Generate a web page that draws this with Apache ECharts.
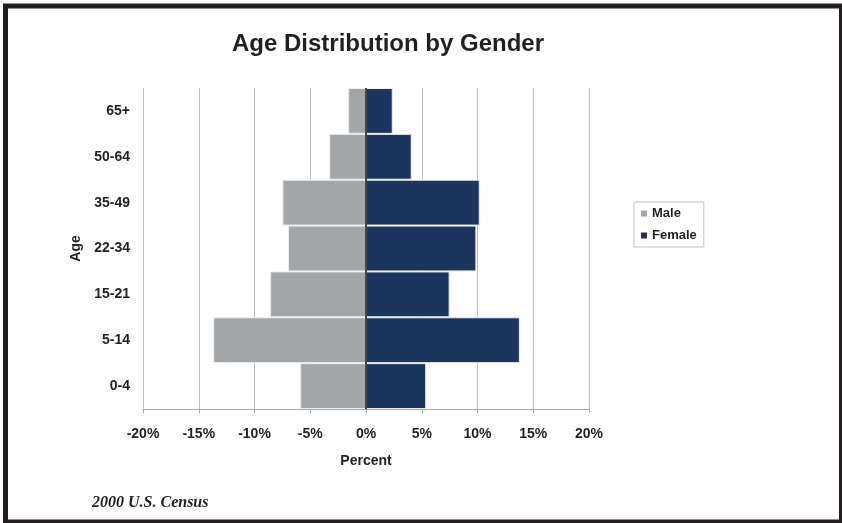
<!DOCTYPE html>
<html>
<head>
<meta charset="utf-8">
<script src="https://cdn.jsdelivr.net/npm/echarts@6/dist/echarts.min.js"></script>
<style>
  html, body { margin: 0; padding: 0; background: #ffffff; }
  #chart { width: 842px; height: 523px; }
</style>
</head>
<body>
<div id="chart"></div>
<script>
// Age groups, bottom to top
const ageGroups = ['0-4', '5-14', '15-21', '22-34', '35-49', '50-64', '65+'];
// Share of population (%); male drawn to the left of zero
const maleValues = [-5.9, -13.7, -8.6, -7.0, -7.5, -3.3, -1.6];
const femaleValues = [5.4, 13.8, 7.5, 9.9, 10.2, 4.1, 2.4];
// Percent axis
const percentMin = -20;
const percentMax = 20;
const percentStep = 5;

const sans = '"Liberation Sans", Arial, sans-serif';
const chart = echarts.init(document.getElementById('chart'), null, { renderer: 'canvas' });

chart.setOption({
  animation: false,
  backgroundColor: '#ffffff',
  title: {
    text: 'Age Distribution by Gender',
    left: 227,
    top: 27,
    textStyle: { fontFamily: sans, fontSize: 24, fontWeight: 'bold', color: '#231f20' }
  },
  legend: {
    orient: 'vertical',
    left: 634,
    top: 202,
    width: 68,
    itemWidth: 6,
    itemHeight: 6,
    itemGap: 9,
    padding: [5, 7, 5, 7],
    borderColor: '#bfbfbf',
    borderWidth: 1,
    icon: 'rect',
    itemStyle: { borderWidth: 0 },
    textStyle: { fontFamily: sans, fontSize: 13, fontWeight: 'bold', color: '#231f20' },
    data: ['Male', 'Female']
  },
  grid: { left: 143, right: 253, top: 88, bottom: 114, containLabel: false },
  xAxis: {
    type: 'value',
    min: percentMin,
    max: percentMax,
    interval: percentStep,
    name: 'Percent',
    nameLocation: 'middle',
    nameGap: 45,
    nameTextStyle: { fontFamily: sans, fontSize: 14, fontWeight: 'bold', color: '#231f20' },
    axisLine: { show: true, lineStyle: { color: '#a6a6a6', width: 1 } },
    axisTick: { show: true, length: 4, lineStyle: { color: '#a6a6a6' } },
    axisLabel: {
      margin: 18,
      formatter: v => v + '%',
      fontFamily: sans, fontSize: 14, fontWeight: 'bold', color: '#231f20'
    },
    splitLine: { show: true, lineStyle: { color: '#c0c0c0', width: 1 } }
  },
  yAxis: {
    type: 'category',
    data: ageGroups,
    name: 'Age',
    nameLocation: 'middle',
    nameGap: 58,
    nameRotate: 90,
    nameTextStyle: { fontFamily: sans, fontSize: 14, fontWeight: 'bold', color: '#231f20' },
    axisLine: { show: false },
    axisTick: { show: false },
    axisLabel: {
      margin: 13,
      fontFamily: sans, fontSize: 14, fontWeight: 'bold', color: '#231f20'
    },
    splitLine: { show: false }
  },
  series: [
    {
      name: 'Male',
      type: 'bar',
      stack: 'pop',
      data: maleValues,
      barCategoryGap: '0%',
      itemStyle: { color: '#a3a6a9', borderColor: '#eeeeee', borderWidth: 1 }
    },
    {
      name: 'Female',
      type: 'bar',
      stack: 'pop',
      data: femaleValues,
      barCategoryGap: '0%',
      itemStyle: { color: '#1c355e', borderColor: '#eeeeee', borderWidth: 1 },
      markLine: {
        silent: true,
        symbol: 'none',
        label: { show: false },
        lineStyle: { color: '#111111', width: 1.5, type: 'solid' },
        data: [{ xAxis: 0 }]
      }
    }
  ],
  graphic: [
    {
      type: 'text',
      left: 92,
      top: 495,
      style: {
        text: '2000 U.S. Census',
        font: 'italic bold 16px "Liberation Serif", "Times New Roman", serif',
        fill: '#231f20'
      }
    },
    {
      type: 'rect',
      shape: { x: 5.5, y: 6, width: 836, height: 516 },
      style: { fill: 'none', stroke: '#231f20', lineWidth: 5 },
      z: 100
    }
  ]
});
</script>
</body>
</html>
